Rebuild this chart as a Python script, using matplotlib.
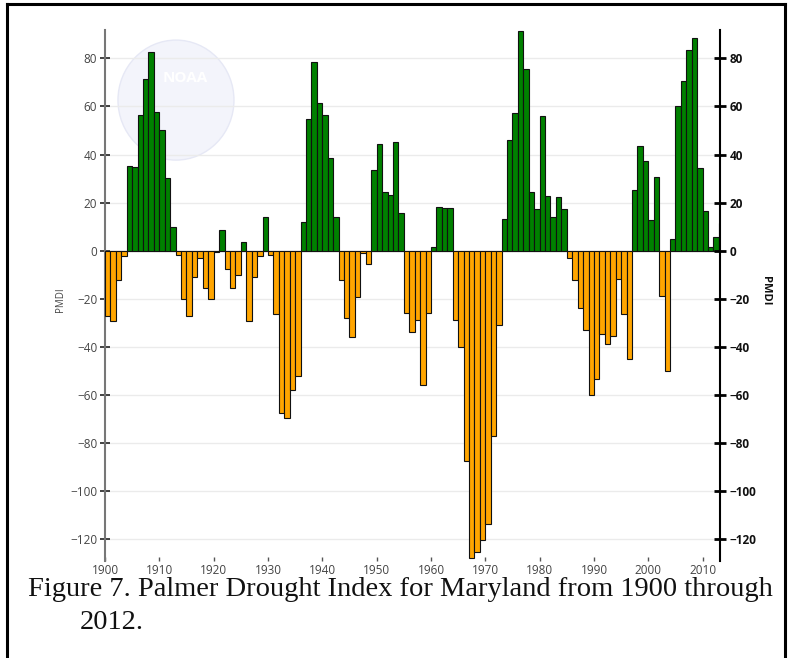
import matplotlib
matplotlib.use("Agg")
import matplotlib.pyplot as plt
from matplotlib.patches import Ellipse
from matplotlib.lines import Line2D
import numpy as np

years = list(range(1900, 2014))
pmdi = [
    -27.0, -29.2, -12.2, -2.2, 35.3, 34.7, 56.3, 71.4, 82.5, 57.9,
    50.2, 30.1, 10.0, -1.8, -20.0, -27.0, -10.7, -2.8, -15.5, -20.0,
    -0.5, 8.6, -7.6, -15.5, -10.0, 3.5, -29.2, -10.7, -2.2, 14.1,
    -1.6, -26.5, -67.4, -69.4, -57.9, -52.0, 11.8, 54.7, 78.6, 61.3,
    56.5, 38.4, 14.1, -12.3, -27.9, -36.0, -19.1, -1.1, -5.4, 33.4,
    44.2, 24.3, 23.0, 45.3, 15.5, -26.0, -33.8, -28.8, -55.9, -26.0,
    1.4, 18.3, 17.8, 17.8, -28.8, -39.9, -87.3, -127.6, -125.4, -120.3,
    -113.8, -76.9, -31.0, 13.2, 46.0, 57.4, 91.3, 75.4, 24.3, 17.3,
    56.1, 22.7, 14.1, 22.3, 17.3, -2.8, -12.3, -23.8, -33.0, -59.9,
    -53.5, -34.8, -38.8, -35.6, -11.9, -26.5, -44.8, 25.1, 43.7, 37.4,
    12.8, 30.5, -18.7, -49.9, 5.0, 60.2, 70.4, 83.6, 88.6, 34.5,
    16.5, 1.4, 5.8, 11.4,
]
x_ticks = [1900, 1910, 1920, 1930, 1940, 1950, 1960, 1970, 1980, 1990, 2000, 2010]
y_ticks = [-120, -100, -80, -60, -40, -20, 0, 20, 40, 60, 80]
caption_line1 = "Figure 7. Palmer Drought Index for Maryland from 1900 through"
caption_line2 = "2012."

plt.rcParams['font.family'] = ['Open Sans', 'DejaVu Sans']

W, H = 791, 658
fig = plt.figure(figsize=(W / 100, H / 100), dpi=100)
L, R, T, B = 105, 720, 30, 561
ax = fig.add_axes([L / W, 1 - B / H, (R - L) / W, (B - T) / H])

colors = ['#008000' if v >= 0 else '#FFA500' for v in pmdi]
ax.bar(years, pmdi, width=1.0, align='edge', color=colors,
       edgecolor='#111111', linewidth=0.8, zorder=3)

ax.set_xlim(1900, 2013.2)
ax.set_ylim(-129, 91.8)
ax.set_yticks(y_ticks)
ax.set_xticks(x_ticks)
ax.grid(axis='y', color='#ebebeb', linewidth=1.0, zorder=1)
ax.set_axisbelow(True)
ax.axhline(0, color='#666666', linewidth=0.8, zorder=2)

# faint watermark
wm = Ellipse((0.1154, 0.868), 0.1886, 0.226, transform=ax.transAxes,
             facecolor='#f3f4fb', edgecolor='#e6e8f5', linewidth=1.0, zorder=0.5)
ax.add_patch(wm)
ax.text(0.13, 0.91, 'NOAA', transform=ax.transAxes, color='white',
        fontsize=11, fontweight='bold', ha='center', va='center', zorder=0.6)

for s in ['top', 'right', 'bottom']:
    ax.spines[s].set_visible(False)
ax.spines['left'].set_color('#777777')
ax.spines['left'].set_linewidth(1.5)
ax.tick_params(axis='y', direction='inout', length=7, width=1.2, color='#222222',
               labelsize=8.5, labelcolor='#444444', pad=2)
ax.tick_params(axis='x', direction='in', length=3, width=1.0, color='#555555',
               labelsize=8.5, labelcolor='#444444', pad=2.5)

ax2 = ax.twinx()
ax2.set_ylim(ax.get_ylim())
ax2.set_yticks(y_ticks)
for s in ['top', 'left', 'bottom']:
    ax2.spines[s].set_visible(False)
ax2.spines['right'].set_color('black')
ax2.spines['right'].set_linewidth(1.5)
ax2.tick_params(axis='y', direction='inout', length=8, width=2.0, color='black',
                labelsize=8.5, labelcolor='#111111', pad=3)
for lab in ax2.get_yticklabels():
    lab.set_fontweight('bold')

fig.text(60 / W, 1 - 300 / H, 'PMDI', rotation=90, fontsize=7, color='#444444',
         ha='center', va='center')
fig.text(765 / W, 1 - 291 / H, 'PMDI', rotation=270, fontsize=8, fontweight='bold',
         color='#111111', ha='center', va='center')

serif = ['Liberation Serif', 'DejaVu Serif']
fig.text(28 / W, 1 - 596 / H, caption_line1, family=serif,
         fontsize=20.5, color='#111111', ha='left', va='baseline')
fig.text(80 / W, 1 - 629 / H, caption_line2, family=serif,
         fontsize=20.5, color='#111111', ha='left', va='baseline')

# document border
lk = dict(color='black', linewidth=2.2, transform=fig.transFigure)
fig.add_artist(Line2D([7 / W, 7 / W], [0, 1 - 4 / H], **lk))
fig.add_artist(Line2D([7 / W, 785 / W], [1 - 4 / H, 1 - 4 / H], **lk))
fig.add_artist(Line2D([785 / W, 785 / W], [0, 1 - 4 / H], **lk))

fig.savefig('out.png', dpi=100)
